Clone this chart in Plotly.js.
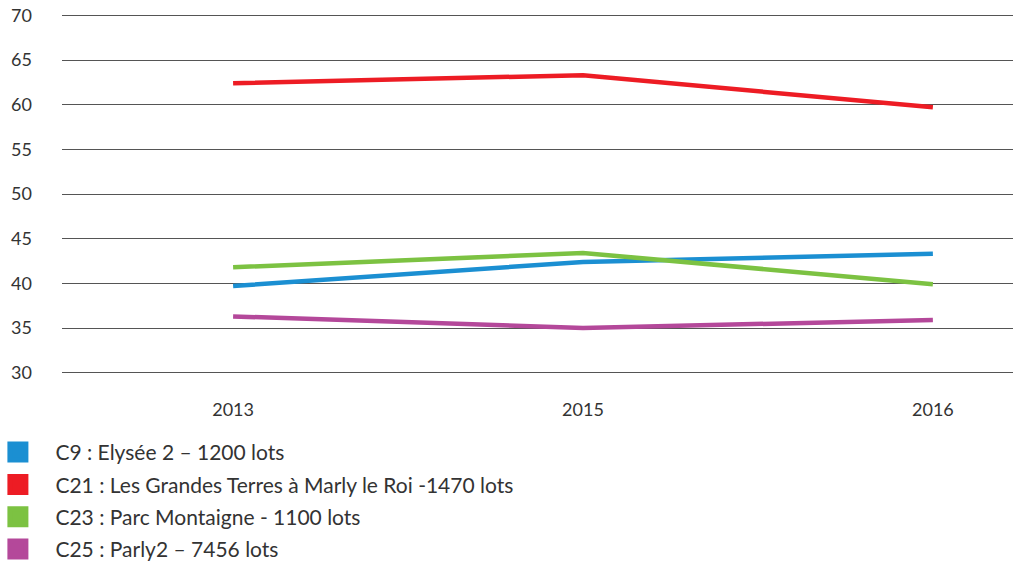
<!DOCTYPE html>
<html><head><meta charset="utf-8">
<script src="https://cdn.plot.ly/plotly-3.0.1.min.js"></script>
<style>body{margin:0;padding:0;background:#fff}#chart{width:1013px;height:564px}</style>
</head><body><div id="chart"></div>
<script>
const years = ['2013', '2015', '2016'];
const seriesNames = ['C9 : Elysée 2 – 1200 lots', 'C21 : Les Grandes Terres à Marly le Roi -1470 lots', 'C23 : Parc Montaigne - 1100 lots', 'C25 : Parly2 – 7456 lots'];
const c9 = [39.7, 42.4, 43.3];
const c21 = [62.4, 63.3, 59.7];
const c23 = [41.8, 43.4, 39.9];
const c25 = [36.3, 35.0, 35.9];
const colors = ['#1b8fd2', '#ed1c24', '#7cc242', '#b4489a'];
const values = [c9, c21, c23, c25];
const FONT = 'Lato, "DejaVu Sans", sans-serif';

const traces = [];
values.forEach((v, i) => {
  traces.push({x: years, y: v, type: 'scatter', mode: 'lines', name: seriesNames[i],
    line: {color: colors[i], width: 4.5}, showlegend: false, hoverinfo: 'skip'});
});
values.forEach((v, i) => {
  traces.push({x: [null], y: [null], type: 'scatter', mode: 'markers', name: seriesNames[i],
    legendgroup: 'g' + i, marker: {symbol: 'square', size: 16, color: colors[i], line: {color: colors[i], width: 5}}, showlegend: true});
});

const layout = {
  width: 1013, height: 564,
  margin: {l: 62, r: 0, t: 14, b: 190, autoexpand: false},
  paper_bgcolor: '#fff', plot_bgcolor: '#fff',
  font: {family: FONT, color: '#333', size: 18},
  xaxis: {type: 'category', range: [-0.489, 2.229], showgrid: false, zeroline: false,
    showline: false, ticks: '', ticklabelstandoff: 23, tickfont: {size: 18, color: '#333'}},
  yaxis: {range: [29.85, 70.15], dtick: 5, tick0: 30, showgrid: true, gridcolor: '#555', gridwidth: 1,
    zeroline: false, showline: false, ticks: '', ticklabelstandoff: 29, tickfont: {size: 18, color: '#333'}},
  showlegend: true,
  legend: {x: -0.0858, xanchor: 'left', y: -0.161, yanchor: 'top', orientation: 'v', itemwidth: 65,
    font: {size: 21, color: '#333', family: FONT}, tracegroupgap: 2, bgcolor: 'rgba(0,0,0,0)', itemsizing: 'trace'}
};
Plotly.newPlot('chart', traces, layout, {displayModeBar: false, staticPlot: true});
</script></body></html>
